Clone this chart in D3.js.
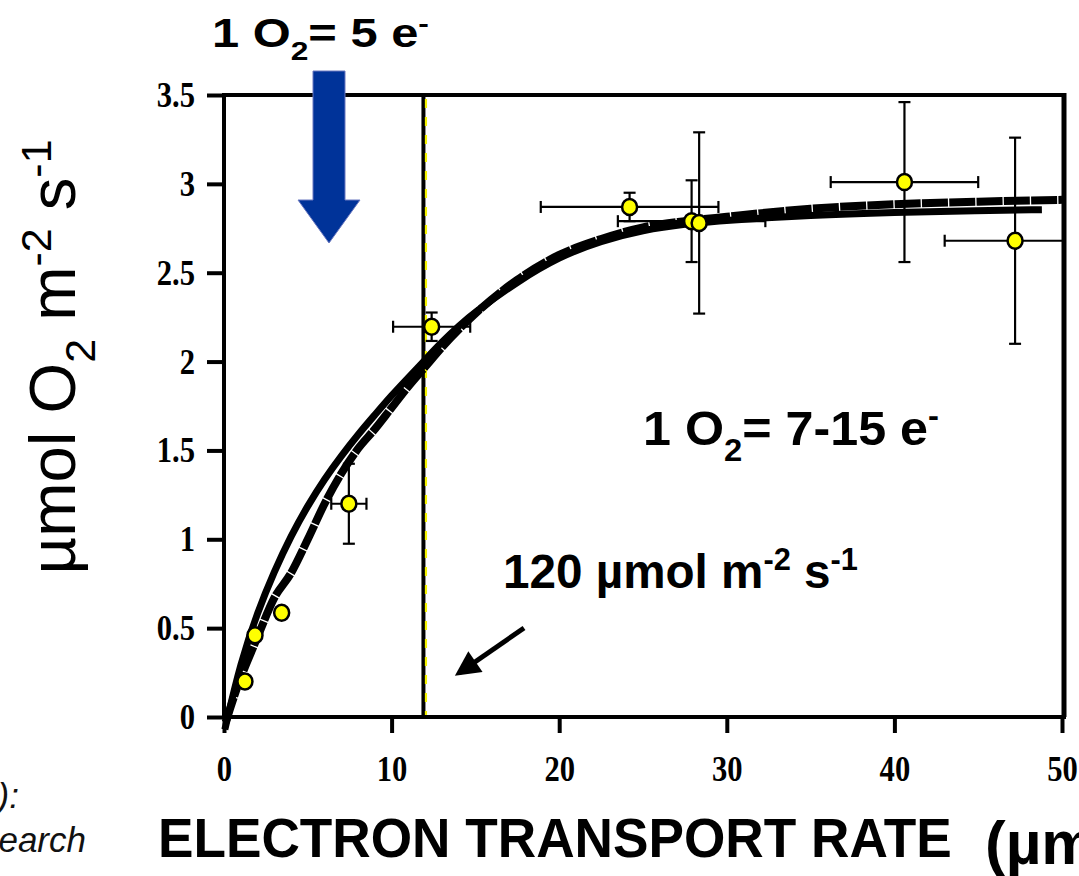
<!DOCTYPE html>
<html><head><meta charset="utf-8">
<script src="https://cdn.jsdelivr.net/npm/d3@7/dist/d3.min.js"></script>
<style>body{margin:0;background:#fff;overflow:hidden}svg{display:block}</style>
</head><body>
<svg id="c" width="1079" height="876"></svg>
<script>
// ---------- data ----------
const xTicks = [0, 10, 20, 30, 40, 50];
const xTickLabels = ["0", "10", "20", "30", "40", "50"];
const yTicks = [0, 0.5, 1, 1.5, 2, 2.5, 3, 3.5];
const yTickLabels = ["0", "0.5", "1", "1.5", "2", "2.5", "3", "3.5"];

// measured points: electron transport rate vs O2 evolution
const etr    = [1.25, 1.85, 3.44, 7.45, 12.39, 24.2, 27.9, 28.35, 40.6, 47.2];
const o2     = [0.20, 0.46, 0.587, 1.20, 2.196, 2.87, 2.79, 2.78, 3.01, 2.68];
const etrErr = [0, 0, 0, 1.05, 2.3, 5.3, 4.4, 0, 4.4, 4.2];
const o2Err  = [0, 0, 0, 0.225, 0.08, 0.08, 0.23, 0.51, 0.45, 0.58];

// smooth fitted curve
const fitX = [0.05, 1, 2, 3, 4, 5, 6, 7, 8, 9, 10, 11, 12, 13, 14, 15, 17.5, 20, 22.5, 25, 27.5, 30, 35, 40, 45, 48.8];
const fitY = [-0.07, 0.31, 0.59, 0.82, 1.02, 1.19, 1.34, 1.47, 1.59, 1.70, 1.81, 1.91, 2.01, 2.11, 2.20, 2.28, 2.45, 2.59, 2.68, 2.74, 2.775, 2.795, 2.825, 2.84, 2.85, 2.855];

// second (segmented) curve
const segX = [0.1, 0.8, 2, 3, 4, 5, 6, 7, 8, 9, 10, 11, 12, 13, 15, 17.5, 20, 22.5, 25, 27.5, 30, 35, 40, 45, 50];
const segY = [-0.03, 0.17, 0.45, 0.67, 0.81, 1.00, 1.20, 1.37, 1.51, 1.62, 1.74, 1.86, 1.97, 2.08, 2.27, 2.46, 2.60, 2.69, 2.755, 2.79, 2.815, 2.86, 2.885, 2.90, 2.91];

const thresholdETR = 11.9;   // black vertical line
const yellowETR = 12.05;     // yellow dashed line

// ---------- layout ----------
const svg = d3.select("#c");
const X0 = 224, X1 = 1062, Y0 = 717, Y1 = 95;
const x = d3.scaleLinear().domain([0, 50]).range([X0, X1]);
const y = d3.scaleLinear().domain([0, 3.5]).range([Y0, Y1]);

svg.append("defs").append("clipPath").attr("id", "plot")
  .append("rect").attr("x", X0).attr("y", Y1).attr("width", X1 - X0 + 2).attr("height", Y0 - Y1);

// frame (top and right)
svg.append("line").attr("x1", X0).attr("x2", X1 + 4).attr("y1", Y1).attr("y2", Y1)
  .attr("stroke", "#000").attr("stroke-width", 4);
svg.append("line").attr("x1", X1 + 2).attr("x2", X1 + 2).attr("y1", Y1 - 2).attr("y2", Y0)
  .attr("stroke", "#000").attr("stroke-width", 5);

// vertical lines
svg.append("line").attr("x1", x(thresholdETR)).attr("x2", x(thresholdETR)).attr("y1", Y1).attr("y2", Y0)
  .attr("stroke", "#000").attr("stroke-width", 4);
svg.append("line").attr("x1", x(yellowETR)).attr("x2", x(yellowETR)).attr("y1", Y1 + 4).attr("y2", Y0)
  .attr("stroke", "#f2f200").attr("stroke-width", 2.2).attr("stroke-dasharray", "9,9");

// axes
const xAxis = d3.axisBottom(x).tickValues(xTicks).tickFormat((d, i) => xTickLabels[i]).tickSize(16).tickPadding(22);
const yAxis = d3.axisLeft(y).tickValues(yTicks).tickFormat((d, i) => yTickLabels[i]).tickSize(17).tickPadding(12);
const gx = svg.append("g").attr("transform", `translate(0,${Y0})`).call(xAxis);
const gy = svg.append("g").attr("transform", `translate(${X0},0)`).call(yAxis);
[gx, gy].forEach(g => {
  g.select(".domain").attr("stroke", "#000").attr("stroke-width", 4);
  g.selectAll(".tick line").attr("stroke", "#000").attr("stroke-width", 4);
  g.selectAll(".tick text").attr("fill", "#000")
    .style("font-family", "'Liberation Serif','Times New Roman',serif")
    .style("font-weight", "bold").style("font-size", "36px");
});
gx.selectAll(".tick text").attr("transform", "scale(0.85,1)");
gy.selectAll(".tick text").each(function () {
  const tx = +d3.select(this).attr("x");
  d3.select(this).attr("x", 0).attr("transform", `translate(${tx},0) scale(0.85,1)`);
});
gx.select(".domain").attr("d", `M${X0},0H${X1 + 4}`);
gy.select(".domain").attr("d", `M0,${Y0 + 2}V${Y1 - 2}`);

// curves
const plot = svg.append("g").attr("clip-path", "url(#plot)");
const lineGen = d3.line().x(d => x(d[0])).y(d => y(d[1])).curve(d3.curveMonotoneX);
svg.append("path").datum(d3.zip(segX, segY)).attr("d", lineGen)
  .attr("fill", "none").attr("stroke", "#000").attr("stroke-width", 8)
  .attr("stroke-dasharray", "26,1.3");
svg.append("path").datum(d3.zip(fitX, fitY)).attr("d", lineGen.curve(d3.curveBasis))
  .attr("fill", "none").attr("stroke", "#000").attr("stroke-width", 7);

// error bars
const pts = etr.map((v, i) => ({x: v, y: o2[i], ex: etrErr[i], ey: o2Err[i]}));
const eb = plot.append("g").attr("stroke", "#000").attr("stroke-width", 2.2);
const cap = 6;
pts.forEach(p => {
  if (p.ex > 0) {
    eb.append("line").attr("x1", x(p.x - p.ex)).attr("x2", x(p.x + p.ex)).attr("y1", y(p.y)).attr("y2", y(p.y));
    eb.append("line").attr("x1", x(p.x - p.ex)).attr("x2", x(p.x - p.ex)).attr("y1", y(p.y) - cap).attr("y2", y(p.y) + cap);
    eb.append("line").attr("x1", x(p.x + p.ex)).attr("x2", x(p.x + p.ex)).attr("y1", y(p.y) - cap).attr("y2", y(p.y) + cap);
  }
  if (p.ey > 0) {
    eb.append("line").attr("x1", x(p.x)).attr("x2", x(p.x)).attr("y1", y(p.y - p.ey)).attr("y2", y(p.y + p.ey));
    eb.append("line").attr("x1", x(p.x) - cap).attr("x2", x(p.x) + cap).attr("y1", y(p.y - p.ey)).attr("y2", y(p.y - p.ey));
    eb.append("line").attr("x1", x(p.x) - cap).attr("x2", x(p.x) + cap).attr("y1", y(p.y + p.ey)).attr("y2", y(p.y + p.ey));
  }
});
svg.append("g").selectAll("ellipse").data(pts).join("ellipse")
  .attr("cx", d => x(d.x)).attr("cy", d => y(d.y)).attr("rx", 7.5).attr("ry", 8)
  .attr("fill", "#ffff00").attr("stroke", "#000").attr("stroke-width", 2.5);

// ---------- text helpers ----------
const SANS = "Arial,'Liberation Sans',Helvetica,sans-serif";
function richText(parent, xPos, yPos, size, weight, parts, opts = {}) {
  const t = parent.append("text").attr("x", xPos).attr("y", yPos)
    .style("font-family", SANS).style("font-size", size + "px").style("font-weight", weight)
    .attr("fill", "#000").attr("text-anchor", opts.anchor || "start");
  if (opts.italic) t.style("font-style", "italic");
  let shift = 0;
  parts.forEach(p => {
    const s = t.append("tspan").text(p.t);
    let target = 0;
    if (p.sub) { s.style("font-size", Math.round(size * 0.65) + "px"); target = size * 0.32; }
    if (p.sup) { s.style("font-size", Math.round(size * 0.65) + "px"); target = -size * 0.38; }
    if (target - shift !== 0) s.attr("dy", target - shift);
    shift = target;
    if (p.fill) s.attr("fill", p.fill);
  });
  if (opts.width) {
    const w = t.node().getBBox().width;
    const sx = opts.width / w;
    t.attr("transform", `translate(${xPos},0) scale(${sx},1) translate(${-xPos},0)`);
  }
  return t;
}

// top label
richText(svg, 212, 47, 40, "bold",
  [{t: "1 O"}, {t: "2", sub: true}, {t: "= 5 e"}, {t: "-", sup: true}], {width: 217});

// blue arrow
const arrowPts = [[313, 71], [345, 71], [345, 200], [360, 200], [329, 243], [298, 200], [313, 200]];
svg.append("polygon").attr("points", arrowPts.map(p => p.join(",")).join(" "))
  .attr("fill", "#003399").attr("stroke", "#6a78c0").attr("stroke-width", 1);

// annotation: 1 O2 = 7-15 e-
richText(svg, 643, 445, 49, "bold",
  [{t: "1 O"}, {t: "2", sub: true}, {t: "= 7-15 e"}, {t: "-", sup: true}], {width: 296});

// annotation: 120 µmol m-2 s-1
richText(svg, 503, 588, 48, "bold",
  [{t: "120 µmol m"}, {t: "-2", sup: true}, {t: " s"}, {t: "-1", sup: true}], {width: 355});

// small black arrow
svg.append("defs").append("marker").attr("id", "ah").attr("viewBox", "0 0 10 10")
  .attr("refX", 8).attr("refY", 5).attr("markerWidth", 5.5).attr("markerHeight", 5)
  .attr("orient", "auto").attr("markerUnits", "strokeWidth")
  .append("path").attr("d", "M0,0 L10,5 L0,10 Z").attr("fill", "#000");
svg.append("line").attr("x1", 524).attr("y1", 628).attr("x2", 459).attr("y2", 673)
  .attr("stroke", "#000").attr("stroke-width", 5).attr("marker-end", "url(#ah)");

// x axis title
richText(svg, 158, 857, 55, "bold", [{t: "ELECTRON TRANSPORT RATE"}], {width: 794});
richText(svg, 985, 864, 62, "bold", [{t: "(µmol m"}, {t: "-2", sup: true}, {t: " s"}, {t: "-1", sup: true}, {t: ")"}]);

// y axis title
const gyl = svg.append("g").attr("transform", "translate(75,357) rotate(-90)");
const ylab = richText(gyl, 0, 0, 64, "normal",
  [{t: "µmol O"}, {t: "2", sub: true}, {t: " m"}, {t: "-2", sup: true}, {t: " s"}, {t: "-1", sup: true}], {anchor: "middle"});
{
  const w = ylab.node().getBBox().width;
  ylab.attr("transform", `scale(${435 / w},1)`);
}

// partial citation text on the left edge
richText(svg, 19, 808, 35, "normal", [{t: "):"}], {anchor: "end", italic: true}).attr("fill", "#111");
richText(svg, 86, 852, 35, "normal", [{t: "earch"}], {anchor: "end", italic: true}).attr("fill", "#111");
</script>
</body></html>
